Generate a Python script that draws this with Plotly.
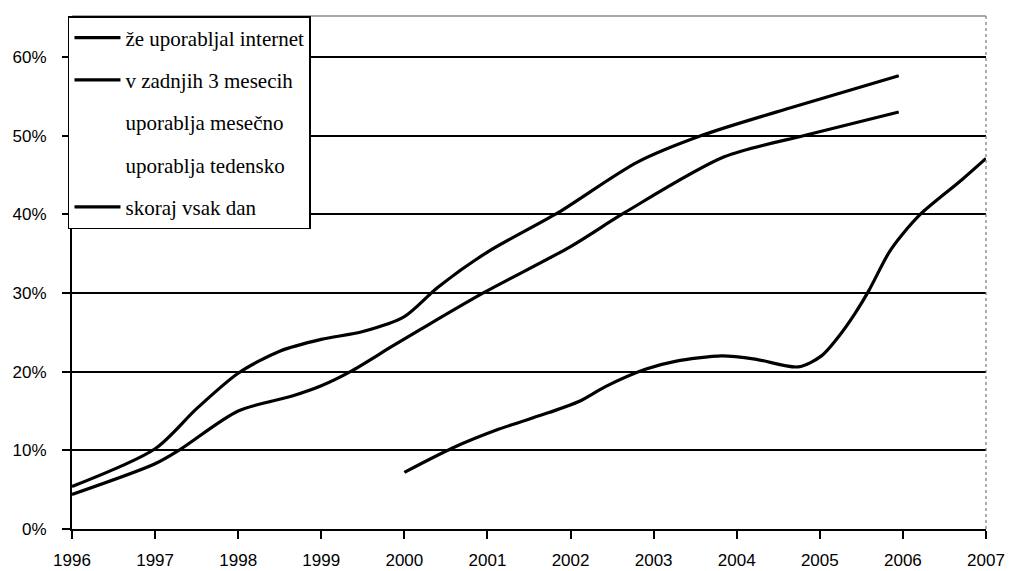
import plotly.graph_objects as go

# ---- data (percent) ----
years_ze = [1996.0, 1997.0, 1997.5, 1998.0, 1998.5, 1999.0, 1999.5, 2000.0, 2000.4, 2001.0,
            2001.85, 2002.8, 2003.6, 2004.7, 2005.95]
vals_ze = [5.4, 10.2, 15.3, 19.8, 22.6, 24.1, 25.1, 27.0, 30.7, 35.2,
           40.2, 46.6, 50.1, 53.7, 57.6]

years_3m = [1996.0, 1997.0, 1997.3, 1998.0, 1998.65, 1999.0, 1999.35, 1999.85, 2000.2, 2000.95,
            2002.0, 2002.65, 2003.85, 2004.85, 2005.95]
vals_3m = [4.4, 8.3, 10.1, 15.0, 16.9, 18.2, 20.0, 23.2, 25.4, 30.0,
           35.9, 40.2, 47.3, 50.1, 53.0]

years_mesecno = [1996.0, 2007.0]
vals_mesecno = [None, None]
years_tedensko = [1996.0, 2007.0]
vals_tedensko = [None, None]

years_dan = [2000.0, 2000.58, 2001.14, 2001.74, 2002.1, 2002.42, 2002.9, 2003.26, 2003.82,
             2004.22, 2004.74, 2005.02, 2005.23, 2005.43, 2005.59, 2005.83, 2005.99,
             2006.23, 2006.71, 2007.0]
vals_dan = [7.2, 10.3, 12.7, 14.8, 16.2, 18.1, 20.3, 21.3, 22.0,
            21.6, 20.6, 22.0, 24.5, 27.5, 30.3, 35.1, 37.4,
            40.2, 44.4, 47.1]

series_names = ["že uporabljal internet", "v zadnjih 3 mesecih", "uporablja mesečno",
                "uporablja tedensko", "skoraj vsak dan"]
x_ticks = list(range(1996, 2008))
y_ticks = [0, 10, 20, 30, 40, 50, 60]
y_ticktext = ["0%", "10%", "20%", "30%", "40%", "50%", "60%"]

series = [
    (years_ze, vals_ze, "black"),
    (years_3m, vals_3m, "black"),
    (years_mesecno, vals_mesecno, "rgba(255,255,255,0)"),
    (years_tedensko, vals_tedensko, "rgba(255,255,255,0)"),
    (years_dan, vals_dan, "black"),
]

fig = go.Figure()
for i, ((xs, ys, col), name) in enumerate(zip(series, series_names)):
    fig.add_trace(go.Scatter(
        x=xs, y=ys, name=name, mode="lines",
        line=dict(color=col, width=3.2, shape="spline", smoothing=0.8),
        legendgroup=f"g{i}", connectgaps=False,
    ))

fig.update_layout(
    width=1010, height=571,
    margin=dict(l=72, r=24, t=16, b=42),
    paper_bgcolor="white", plot_bgcolor="white",
    showlegend=True,
    legend=dict(
        x=-0.0044, y=1.0, xanchor="left", yanchor="top",
        bgcolor="white", bordercolor="black", borderwidth=1.5,
        font=dict(family="Liberation Serif", size=21, color="black"),
        traceorder="grouped", tracegroupgap=12,
        itemwidth=46,
    ),
    xaxis=dict(
        range=[1996, 2007], tickvals=x_ticks, ticktext=[str(t) for t in x_ticks],
        showgrid=False, zeroline=False, automargin=False,
        showline=True, linecolor="black", linewidth=2,
        ticks="outside", ticklen=8, tickwidth=2, tickcolor="black",
        ticklabelstandoff=7,
        tickfont=dict(family="Liberation Sans", size=17, color="black"),
    ),
    yaxis=dict(
        range=[0, 65.2], tickvals=y_ticks, ticktext=y_ticktext,
        showgrid=True, gridcolor="black", gridwidth=1.6,
        zeroline=False, automargin=False,
        showline=True, linecolor="black", linewidth=2,
        ticks="outside", ticklen=8, tickwidth=2, tickcolor="black",
        ticklabelstandoff=12,
        tickfont=dict(family="Liberation Sans", size=17, color="black"),
    ),
    shapes=[
        dict(type="line", xref="paper", yref="paper", x0=0, x1=1, y0=1, y1=1,
             line=dict(color="#555555", width=1.2)),
        dict(type="line", xref="paper", yref="paper", x0=1, x1=1, y0=0, y1=1,
             line=dict(color="#777777", width=1.2, dash="dot")),
    ],
)

fig.write_html("out.html")
